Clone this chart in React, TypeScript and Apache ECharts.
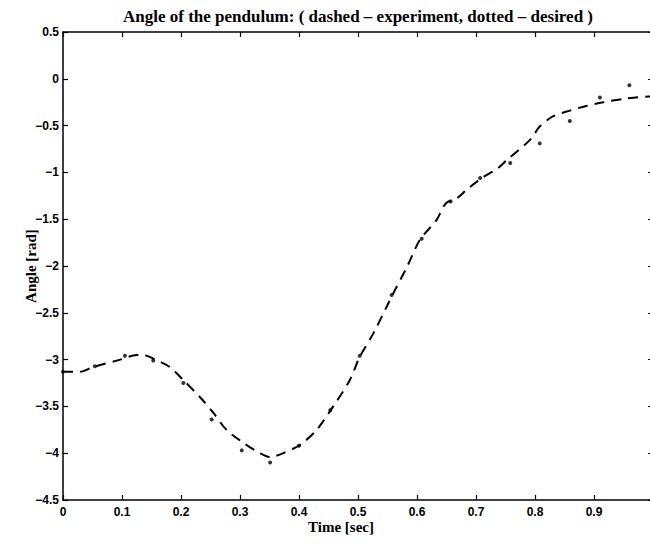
import React, { useEffect, useRef } from "react";
import * as echarts from "echarts";

// Experiment (dashed) trajectory
const expTime = [0, 0.028, 0.051, 0.097, 0.125, 0.136, 0.153, 0.181, 0.204, 0.232, 0.255, 0.277, 0.306, 0.334, 0.351, 0.373, 0.402, 0.43, 0.458, 0.486, 0.503, 0.526, 0.549, 0.56, 0.583, 0.605, 0.633, 0.649, 0.669, 0.685, 0.71, 0.736, 0.752, 0.792, 0.808, 0.831, 0.859, 0.887, 0.916, 0.955, 0.994, 1.0];
const expAngle = [-3.13, -3.13, -3.08, -3.0, -2.95, -2.95, -2.99, -3.08, -3.22, -3.4, -3.57, -3.75, -3.89, -4.0, -4.04, -4.0, -3.91, -3.75, -3.5, -3.22, -2.97, -2.72, -2.43, -2.29, -2.01, -1.72, -1.51, -1.33, -1.27, -1.18, -1.06, -0.96, -0.87, -0.65, -0.51, -0.4, -0.34, -0.29, -0.25, -0.21, -0.19, -0.19];

// Desired (dotted) trajectory
const desTime = [0, 0.054, 0.105, 0.153, 0.204, 0.252, 0.303, 0.351, 0.4, 0.453, 0.503, 0.557, 0.608, 0.657, 0.707, 0.758, 0.808, 0.859, 0.91, 0.96];
const desAngle = [-3.13, -3.07, -2.96, -3.01, -3.25, -3.64, -3.97, -4.1, -3.92, -3.54, -2.96, -2.31, -1.71, -1.31, -1.06, -0.9, -0.69, -0.45, -0.2, -0.07];

const xTickLabels = ["0", "0.1", "0.2", "0.3", "0.4", "0.5", "0.6", "0.7", "0.8", "0.9", ""];
const yTickLabels = ["\u22124.5", "\u22124", "\u22123.5", "\u22123", "\u22122.5", "\u22122", "\u22121.5", "\u22121", "\u22120.5", "0", "0.5"];

const titleText = "Angle of the pendulum: ( dashed \u2013 experiment, dotted \u2013 desired )";

export default function App() {
  const ref = useRef<HTMLDivElement>(null);
  useEffect(() => {
    if (!ref.current) return;
    const chart = echarts.init(ref.current, undefined, { renderer: "svg" });
    const sans = "Liberation Sans";
    const serif = "Liberation Serif";
    const axisLine = { show: true, onZero: false, lineStyle: { color: "#000", width: 1.5 } };
    const tick = { show: true, inside: true, length: 5, lineStyle: { color: "#000", width: 1.2 } };
    chart.setOption({
      animation: false,
      backgroundColor: "#fff",
      title: {
        text: titleText,
        left: 118,
        top: 3,
        textStyle: { fontFamily: serif, fontWeight: "bold", fontSize: 17, color: "#000" },
      },
      grid: { left: 63, right: 9, top: 32, bottom: 46, containLabel: false },
      xAxis: [
        {
          type: "value",
          min: 0,
          max: 1,
          interval: 0.1,
          position: "bottom",
          name: "Time [sec]",
          nameLocation: "middle",
          nameGap: 19,
          nameMoveOverlap: false,
          nameTextStyle: { fontFamily: serif, fontWeight: "bold", fontSize: 15, color: "#000", padding: [0, 34, 0, 0] },
          axisLine,
          axisTick: tick,
          splitLine: { show: false },
          axisLabel: {
            margin: 6,
            fontFamily: sans,
            fontWeight: "bold",
            fontSize: 12,
            color: "#000",
            formatter: (v: number) => xTickLabels[Math.round(v * 10)] ?? "",
          },
        },
        {
          type: "value",
          min: 0,
          max: 1,
          interval: 0.1,
          position: "top",
          axisLine,
          axisTick: tick,
          axisLabel: { show: false },
          splitLine: { show: false },
        },
      ],
      yAxis: [
        {
          type: "value",
          min: -4.5,
          max: 0.5,
          interval: 0.5,
          position: "left",
          name: "Angle [rad]",
          nameLocation: "middle",
          nameGap: 25,
          nameMoveOverlap: false,
          nameTextStyle: { fontFamily: serif, fontWeight: "bold", fontSize: 15, color: "#000" },
          axisLine,
          axisTick: tick,
          splitLine: { show: false },
          axisLabel: {
            margin: 4,
            fontFamily: sans,
            fontWeight: "bold",
            fontSize: 12,
            color: "#000",
            formatter: (v: number) => yTickLabels[Math.round((v + 4.5) * 2)] ?? "",
          },
        },
        {
          type: "value",
          min: -4.5,
          max: 0.5,
          interval: 0.5,
          position: "right",
          axisLine,
          axisTick: tick,
          axisLabel: { show: false },
          splitLine: { show: false },
        },
      ],
      series: [
        {
          name: "experiment",
          type: "line",
          data: expTime.map((t, i) => [t, expAngle[i]]),
          smooth: 0.3,
          showSymbol: false,
          symbol: "none",
          lineStyle: { color: "#000", width: 2, type: [10, 7] },
          z: 3,
        },
        {
          name: "desired",
          type: "scatter",
          data: desTime.map((t, i) => [t, desAngle[i]]),
          symbol: "circle",
          symbolSize: 4,
          itemStyle: { color: "#000" },
          z: 4,
        },
      ],
    });
    return () => chart.dispose();
  }, []);
  return (
    <div style={{ position: "fixed", left: 0, top: 0, width: 650, height: 546, overflow: "hidden", background: "#fff" }}>
      <div ref={ref} style={{ width: 662, height: 546 }} />
    </div>
  );
}
